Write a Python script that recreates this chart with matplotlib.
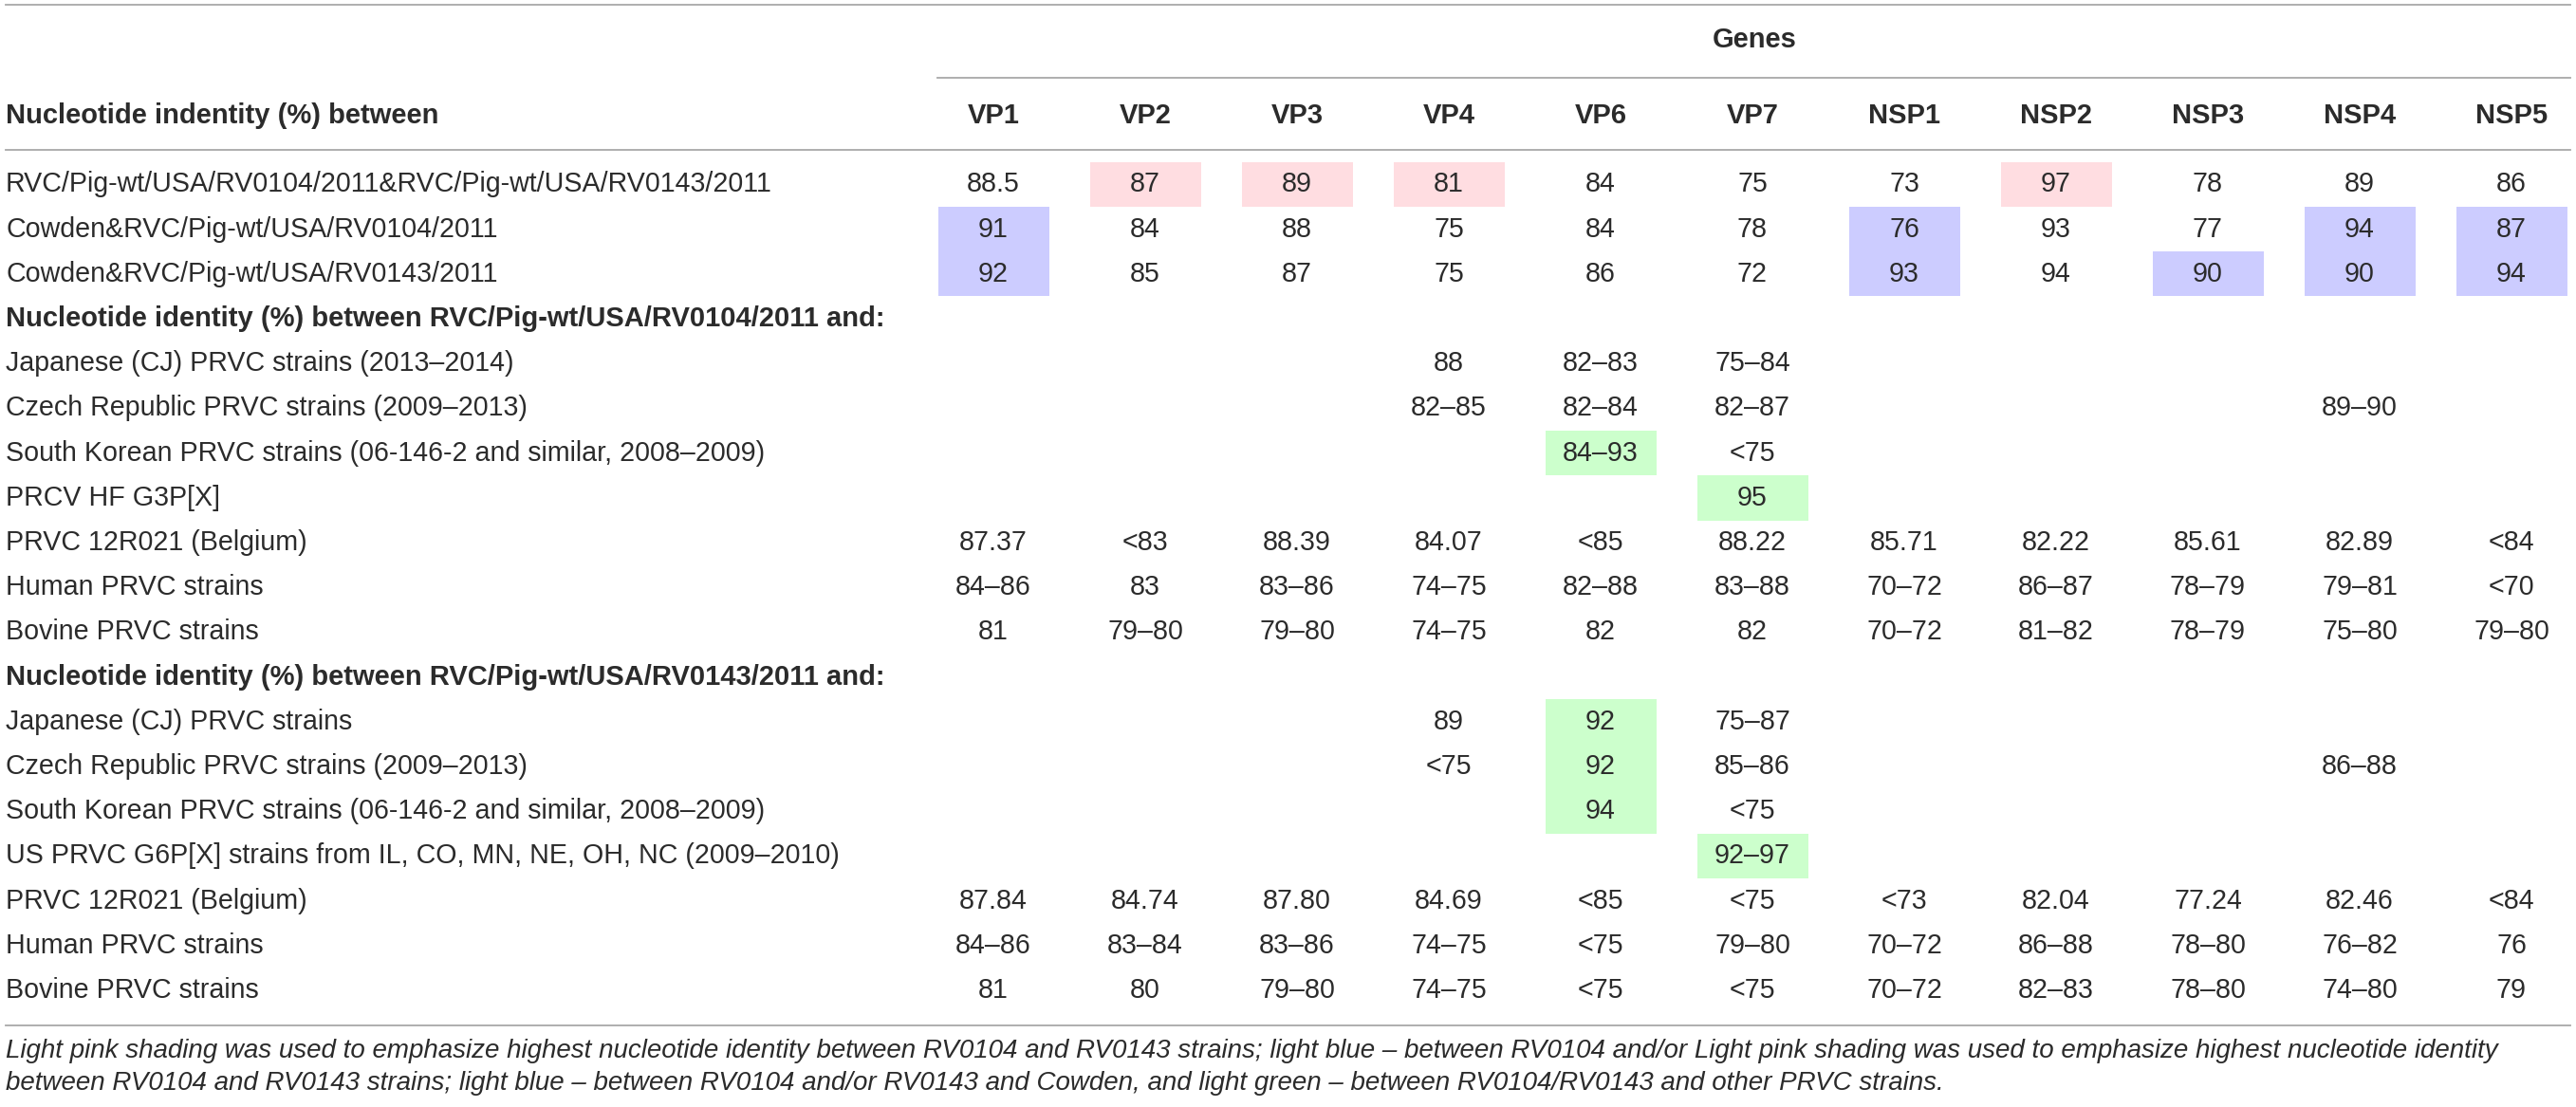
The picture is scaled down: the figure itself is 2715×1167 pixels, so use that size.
import matplotlib
matplotlib.use("Agg")
import matplotlib.pyplot as plt
from matplotlib.patches import Rectangle

# table content
genes = ["VP1", "VP2", "VP3", "VP4", "VP6", "VP7", "NSP1", "NSP2", "NSP3", "NSP4", "NSP5"]

row_labels = [
    "RVC/Pig-wt/USA/RV0104/2011&RVC/Pig-wt/USA/RV0143/2011",
    "Cowden&RVC/Pig-wt/USA/RV0104/2011",
    "Cowden&RVC/Pig-wt/USA/RV0143/2011",
    "Nucleotide identity (%) between RVC/Pig-wt/USA/RV0104/2011 and:",
    "Japanese (CJ) PRVC strains (2013–2014)",
    "Czech Republic PRVC strains (2009–2013)",
    "South Korean PRVC strains (06-146-2 and similar, 2008–2009)",
    "PRCV HF G3P[X]",
    "PRVC 12R021 (Belgium)",
    "Human PRVC strains",
    "Bovine PRVC strains",
    "Nucleotide identity (%) between RVC/Pig-wt/USA/RV0143/2011 and:",
    "Japanese (CJ) PRVC strains",
    "Czech Republic PRVC strains (2009–2013)",
    "South Korean PRVC strains (06-146-2 and similar, 2008–2009)",
    "US PRVC G6P[X] strains from IL, CO, MN, NE, OH, NC (2009–2010)",
    "PRVC 12R021 (Belgium)",
    "Human PRVC strains",
    "Bovine PRVC strains",
]

section_rows = [3, 11]

values = [
    ["88.5", "87", "89", "81", "84", "75", "73", "97", "78", "89", "86"],
    ["91", "84", "88", "75", "84", "78", "76", "93", "77", "94", "87"],
    ["92", "85", "87", "75", "86", "72", "93", "94", "90", "90", "94"],
    [""] * 11,
    ["", "", "", "88", "82–83", "75–84", "", "", "", "", ""],
    ["", "", "", "82–85", "82–84", "82–87", "", "", "", "89–90", ""],
    ["", "", "", "", "84–93", "<75", "", "", "", "", ""],
    ["", "", "", "", "", "95", "", "", "", "", ""],
    ["87.37", "<83", "88.39", "84.07", "<85", "88.22", "85.71", "82.22", "85.61", "82.89", "<84"],
    ["84–86", "83", "83–86", "74–75", "82–88", "83–88", "70–72", "86–87", "78–79", "79–81", "<70"],
    ["81", "79–80", "79–80", "74–75", "82", "82", "70–72", "81–82", "78–79", "75–80", "79–80"],
    [""] * 11,
    ["", "", "", "89", "92", "75–87", "", "", "", "", ""],
    ["", "", "", "<75", "92", "85–86", "", "", "", "86–88", ""],
    ["", "", "", "", "94", "<75", "", "", "", "", ""],
    ["", "", "", "", "", "92–97", "", "", "", "", ""],
    ["87.84", "84.74", "87.80", "84.69", "<85", "<75", "<73", "82.04", "77.24", "82.46", "<84"],
    ["84–86", "83–84", "83–86", "74–75", "<75", "79–80", "70–72", "86–88", "78–80", "76–82", "76"],
    ["81", "80", "79–80", "74–75", "<75", "<75", "70–72", "82–83", "78–80", "74–80", "79"],
]

# highlighted cells (row, gene)
pink_cells = [(0, "VP2"), (0, "VP3"), (0, "VP4"), (0, "NSP2")]
blue_cells = [(1, "VP1"), (2, "VP1"), (1, "NSP1"), (2, "NSP1"), (2, "NSP3"),
              (1, "NSP4"), (2, "NSP4"), (1, "NSP5"), (2, "NSP5")]
green_cells = [(6, "VP6"), (7, "VP7"), (12, "VP6"), (13, "VP6"), (14, "VP6"), (15, "VP7")]

footnote = [
    "Light pink shading was used to emphasize highest nucleotide identity between RV0104 and RV0143 strains; "
    "light blue – between RV0104 and/or Light pink shading was used to emphasize highest nucleotide identity",
    "between RV0104 and RV0143 strains; light blue – between RV0104 and/or RV0143 and Cowden, "
    "and light green – between RV0104/RV0143 and other PRVC strains.",
]

plt.rcParams['font.family'] = ['Liberation Sans', 'DejaVu Sans']
txt = "#2b2b2b"
rule = "#a8a8a8"
fs = 20.6
fs_bold = 21

W, H = 2715, 1167
fig = plt.figure(figsize=(W / 100, H / 100), dpi=100)
ax = fig.add_axes([0, 0, 1, 1])
ax.set_xlim(0, W)
ax.set_ylim(H, 0)
ax.axis("off")

x0 = 1047
dx = 160
y0 = 194.5
dy = 47.2
col_x = {g: x0 + i * dx for i, g in enumerate(genes)}
cw = 117

def row_y(r):
    return y0 + r * dy

# shading
for cells, col in [(pink_cells, "#ffdde1"), (blue_cells, "#ccccff"), (green_cells, "#ccffcc")]:
    for r, g in cells:
        ax.add_patch(Rectangle((col_x[g] - cw / 2, row_y(r) - dy / 2), cw, dy,
                               facecolor=col, edgecolor="none", zorder=0))

# rules
ax.plot([6, 2709], [5, 5], color=rule, lw=1.3)
ax.plot([988, 2709], [82, 82], color=rule, lw=1.3)
ax.plot([6, 2709], [158, 158], color=rule, lw=1.3)
ax.plot([6, 2709], [1081, 1081], color=rule, lw=1.3)

# header
ax.text(1849, 42, "Genes", ha="center", va="center", fontsize=fs_bold, fontweight="bold", color=txt)
ax.text(6, 122, "Nucleotide indentity (%) between", ha="left", va="center",
        fontsize=fs_bold, fontweight="bold", color=txt)
for g in genes:
    ax.text(col_x[g], 122, g, ha="center", va="center", fontsize=fs_bold, fontweight="bold", color=txt)

# body
for r, lab in enumerate(row_labels):
    y = row_y(r)
    bold = r in section_rows
    ax.text(6, y, lab, ha="left", va="center", fontsize=fs_bold if bold else fs,
            fontweight="bold" if bold else "normal", color=txt)
    for g, v in zip(genes, values[r]):
        if v:
            ax.text(col_x[g], y, v, ha="center", va="center", fontsize=fs, color=txt)

# footnote
for i, line in enumerate(footnote):
    ax.text(6, 1108 + i * 34, line, ha="left", va="center", fontsize=20,
            style="italic", color=txt)

fig.savefig("out.png", dpi=100)
